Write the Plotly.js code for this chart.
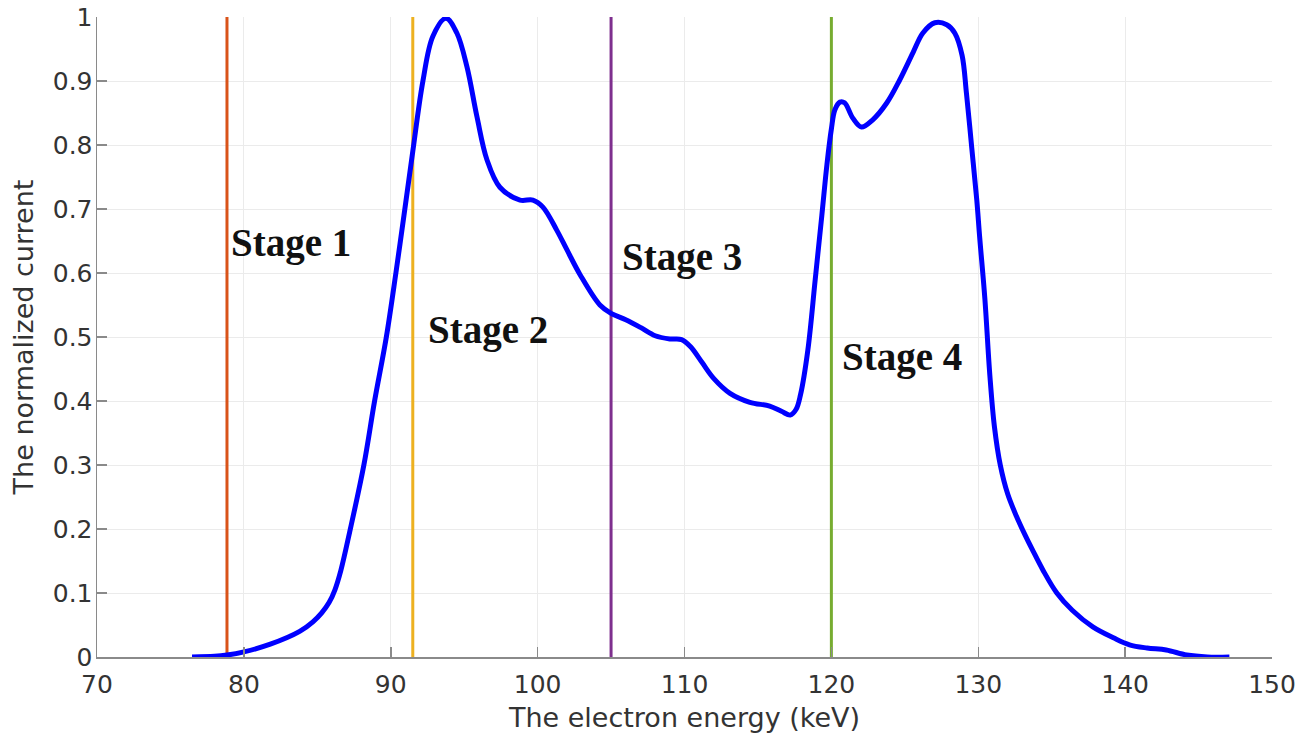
<!DOCTYPE html>
<html>
<head>
<meta charset="utf-8">
<script src="https://cdn.plot.ly/plotly-3.0.1.min.js"></script>
<style>html,body{margin:0;padding:0;background:#fff;}#chart{width:1316px;height:733px;}</style>
</head>
<body>
<div id="chart"></div>
<script>
// Electron energy (keV)
const energy = [76.47, 78.0, 78.85, 80.0, 81.8, 83.8, 84.7, 85.3, 85.8, 86.2, 86.6, 87.2, 88.17, 88.9, 89.7, 90.35, 90.9, 91.5, 92.19, 92.87, 93.76, 94.5, 95.19, 95.87, 96.55, 97.43, 98.8, 99.68, 100.36, 101.3, 102.0, 102.9, 104.24, 105.0, 106.0, 107.0, 108.0, 109.0, 109.8, 110.4, 111.2, 112.0, 113.1, 114.45, 115.8, 116.6, 117.2, 117.6, 117.9, 118.4, 118.9, 119.35, 119.7, 120.0, 120.24, 120.58, 120.9, 121.46, 122.05, 122.8, 123.78, 124.66, 125.55, 126.23, 127.04, 127.86, 128.4, 128.9, 129.2, 129.56, 129.9, 130.1, 130.45, 130.79, 131.1, 131.5, 132.0, 132.6, 133.2, 133.7, 134.4, 135.35, 136.4, 137.8, 139.2, 140.3, 141.5, 142.8, 144.2, 145.6, 147.1];
// Normalized current
const current = [0, 0.001, 0.003, 0.008, 0.02, 0.04, 0.055, 0.069, 0.085, 0.105, 0.135, 0.195, 0.3, 0.4, 0.5, 0.6, 0.69, 0.79, 0.9, 0.97, 0.998, 0.975, 0.922, 0.844, 0.777, 0.734, 0.714, 0.714, 0.703, 0.667, 0.636, 0.597, 0.55, 0.537, 0.527, 0.515, 0.502, 0.497, 0.496, 0.485, 0.46, 0.435, 0.412, 0.398, 0.392, 0.384, 0.378, 0.387, 0.41, 0.48, 0.59, 0.69, 0.77, 0.825, 0.855, 0.867, 0.866, 0.842, 0.828, 0.839, 0.866, 0.902, 0.944, 0.975, 0.991, 0.988, 0.975, 0.94, 0.88, 0.795, 0.714, 0.655, 0.56, 0.44, 0.36, 0.3, 0.255, 0.22, 0.19, 0.167, 0.136, 0.1, 0.073, 0.047, 0.03, 0.019, 0.014, 0.011, 0.003, 0, 0];

// Stage boundaries
const stageNames = ["Stage 1", "Stage 2", "Stage 3", "Stage 4"];
const stageEnergy = [78.85, 91.5, 105, 120];
const stageColors = ["#D95319", "#EDB120", "#7E2F8E", "#77AC30"];
// Stage label anchor positions (data coords)
const labelX = [79.0, 92.4, 105.6, 120.6];
const labelY = [0.647, 0.511, 0.625, 0.469];

const xTicks = [70, 80, 90, 100, 110, 120, 130, 140, 150];
const yTicks = [0, 0.1, 0.2, 0.3, 0.4, 0.5, 0.6, 0.7, 0.8, 0.9, 1];

const traces = [];
stageEnergy.forEach((e, i) => {
  traces.push({
    x: [e, e], y: [0, 1], mode: 'lines', type: 'scatter',
    line: {color: stageColors[i], width: 3}, hoverinfo: 'skip', showlegend: false
  });
});
traces.push({
  x: energy, y: current, mode: 'lines', type: 'scatter',
  line: {color: '#0000FF', width: 5, shape: 'spline', smoothing: 1},
  showlegend: false
});

const annotations = stageNames.map((n, i) => ({
  x: labelX[i], y: labelY[i], xref: 'x', yref: 'y', text: '<b>' + n + '</b>',
  showarrow: false, xanchor: 'left', yanchor: 'middle',
  font: {family: 'Liberation Serif, Times New Roman, serif', size: 39, color: '#111'}
}));

const tickFont = {family: 'DejaVu Sans, Liberation Sans, Arial, sans-serif', size: 25, color: '#333'};
const titleFont = {family: 'DejaVu Sans, Liberation Sans, Arial, sans-serif', size: 27, color: '#333'};

const layout = {
  width: 1316, height: 733,
  margin: {l: 97, r: 44, t: 17, b: 76, pad: 0},
  paper_bgcolor: '#fff', plot_bgcolor: '#fff',
  showlegend: false,
  xaxis: {
    range: [70, 150], tickvals: xTicks, ticktext: xTicks.map(String),
    showgrid: true, gridcolor: '#ebebeb', gridwidth: 1,
    showline: true, linecolor: '#8a8a8a', linewidth: 1.5,
    ticks: 'inside', ticklen: 10, tickcolor: '#8a8a8a', tickwidth: 1.5,
    tickfont: tickFont, zeroline: false, ticklabelstandoff: 4,
    title: {text: 'The electron energy (keV)', font: titleFont}
  },
  yaxis: {
    range: [0, 1], tickvals: yTicks, ticktext: yTicks.map(v => String(v)),
    showgrid: true, gridcolor: '#ebebeb', gridwidth: 1,
    showline: true, linecolor: '#8a8a8a', linewidth: 1.5,
    ticks: 'inside', ticklen: 10, tickcolor: '#8a8a8a', tickwidth: 1.5,
    tickfont: tickFont, zeroline: false, ticklabelstandoff: -2,
    title: {text: 'The normalized current', font: titleFont}
  },
  annotations: annotations
};

Plotly.newPlot('chart', traces, layout, {displayModeBar: false, staticPlot: true});
</script>
</body>
</html>
